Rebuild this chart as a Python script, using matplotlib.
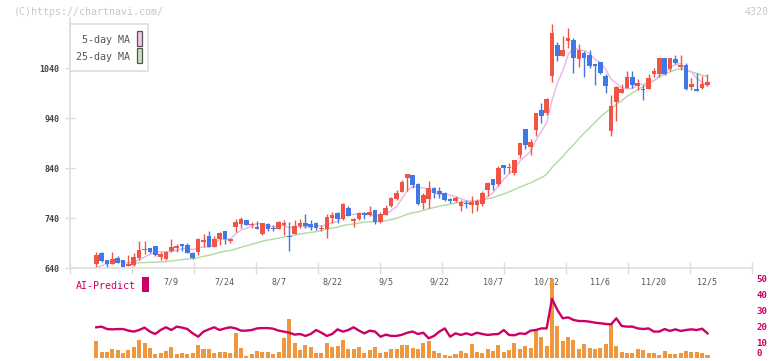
import numpy as np
import pandas as pd
import matplotlib
matplotlib.use("Agg")
import matplotlib.pyplot as plt
from matplotlib.patches import Rectangle

W, H = 772, 361

# trading days shown (TSE 2025, holidays skipped)
jp_holidays = ["2025-07-21", "2025-08-11", "2025-09-15", "2025-09-23",
               "2025-10-13", "2025-11-03", "2025-11-24"]
dates = pd.bdate_range("2025-06-18", "2025-12-05", freq="C", holidays=jp_holidays)

opens = [633, 649, 670, 656, 649, 661, 656, 645, 647, 661,
         676, 680, 684, 663, 658, 674, 681, 688, 687, 671,
         673, 693, 705, 683, 698, 714, 695, 722, 729, 736,
         726, 723, 709, 728, 721, 719, 726, 704, 709, 724,
         730, 729, 731, 719, 719, 741, 750, 739, 761, 735,
         738, 751, 747, 756, 732, 747, 764, 778, 793, 821,
         826, 808, 771, 778, 801, 794, 791, 778, 774, 765,
         771, 767, 767, 768, 796, 818, 808, 846, 841, 830,
         866, 918, 883, 917, 956, 951, 1025, 1086, 1065, 1095,
         1096, 1059, 1070, 1066, 1048, 1052, 1025, 915, 973, 991,
         1001, 1022, 1005, 999, 999, 1028, 1029, 1060, 1039, 1059,
         1043, 1046, 1003, 999, 1000, 1007]
highs = [641, 673, 673, 657, 673, 664, 657, 666, 671, 694,
         694, 681, 685, 672, 675, 698, 689, 689, 690, 672,
         700, 708, 714, 705, 712, 715, 699, 739, 742, 737,
         732, 734, 731, 730, 726, 734, 736, 733, 736, 738,
         748, 737, 733, 726, 749, 752, 752, 770, 765, 741,
         752, 753, 764, 757, 752, 766, 782, 796, 816, 828,
         827, 810, 790, 814, 803, 802, 792, 780, 784, 776,
         776, 784, 779, 794, 812, 819, 845, 847, 851, 857,
         891, 919, 898, 950, 970, 980, 1128, 1092, 1104, 1120,
         1100, 1088, 1075, 1076, 1049, 1053, 1028, 986, 1004, 1009,
         1034, 1034, 1018, 1006, 1028, 1041, 1060, 1061, 1060, 1066,
         1066, 1050, 1021, 1031, 1024, 1029]
lows = [630, 641, 653, 641, 648, 650, 641, 645, 645, 656,
        669, 671, 665, 657, 657, 673, 673, 674, 670, 659,
        666, 683, 682, 682, 686, 689, 691, 713, 720, 726,
        721, 718, 706, 715, 715, 718, 706, 675, 708, 721,
        721, 716, 716, 714, 701, 731, 730, 737, 744, 722,
        736, 739, 745, 728, 730, 746, 763, 776, 792, 794,
        800, 767, 759, 761, 780, 780, 775, 770, 772, 754,
        761, 751, 755, 765, 785, 797, 805, 828, 830, 827,
        861, 878, 866, 905, 930, 946, 1013, 1055, 1064, 1081,
        1031, 1042, 1023, 1040, 1007, 1028, 990, 905, 935, 990,
        1000, 1001, 996, 977, 998, 1022, 1023, 1027, 1034, 1048,
        1036, 996, 996, 994, 998, 1004]
closes = [641, 666, 655, 649, 658, 651, 643, 648, 662, 677,
          678, 673, 667, 669, 673, 682, 685, 685, 671, 661,
          698, 696, 683, 699, 711, 699, 698, 733, 739, 727,
          727, 719, 730, 719, 719, 732, 730, 702, 724, 730,
          725, 723, 721, 721, 742, 746, 738, 769, 745, 738,
          750, 747, 752, 732, 748, 761, 781, 791, 812, 828,
          806, 769, 786, 801, 791, 788, 776, 774, 781, 773,
          768, 773, 774, 790, 810, 807, 840, 841, 843, 856,
          890, 886, 893, 950, 945, 978, 1110, 1065, 1076, 1100,
          1061, 1076, 1061, 1045, 1045, 1031, 1005, 964, 1002, 999,
          1022, 1006, 1011, 997, 1021, 1034, 1060, 1029, 1060, 1050,
          1046, 998, 1008, 995, 1008, 1012]
# closes before the visible window (only feed the moving averages)
prev_closes = [668, 665, 662, 660, 657, 655, 652, 650,
               648, 646, 644, 640, 636, 632, 630, 631]

volume = [np.nan, 10.8, 3.9, 3.9, 5.8, 5.0, 3.3, 5.0, 6.7, 11.3,
          9.6, 6.0, 2.3, 2.9, 4.4, 7.1, 2.5, 3.3, 2.3, 3.3,
          8.1, 5.8, 5.8, 3.3, 3.9, 3.9, 3.3, 15.4, 6.5, 1.5,
          2.3, 4.6, 3.9, 3.9, 2.3, 3.9, 12.5, 24.4, 9.6, 5.0,
          8.1, 6.7, 3.3, 3.3, 9.2, 6.7, 7.7, 11.3, 5.8, 5.8,
          7.1, 3.3, 5.0, 7.1, 3.3, 3.9, 5.8, 5.8, 8.1, 8.1,
          6.5, 5.6, 9.2, 10.6, 4.4, 2.9, 1.9, 1.3, 2.5, 4.4,
          3.1, 8.8, 3.8, 3.1, 5.6, 4.4, 8.1, 3.8, 5.0, 9.4,
          5.6, 7.5, 6.3, 17.7, 13.1, 7.5, 49.4, 20.2, 10.8, 13.1,
          11.3, 5.6, 8.8, 6.3, 5.6, 6.3, 8.8, 21.5, 7.5, 3.8,
          3.1, 3.1, 5.6, 5.0, 3.1, 3.1, 1.9, 4.4, 2.5, 2.5,
          3.1, 4.4, 3.8, 3.8, 3.1, 1.9]
ai_predict = [np.nan, 19.2, 19.6, 18.1, 17.9, 18.1, 18.1, 17.1, 16.5, 17.5,
              19.0, 16.5, 15.0, 17.5, 19.2, 17.5, 19.6, 19.0, 18.1, 15.4,
              13.3, 16.5, 17.9, 19.2, 17.5, 18.5, 19.2, 18.5, 17.1, 17.1,
              17.5, 18.5, 18.7, 18.7, 18.3, 17.1, 16.5, 15.8, 14.6, 15.0,
              13.8, 15.0, 17.5, 15.8, 13.8, 15.0, 17.9, 16.5, 17.5, 19.2,
              17.1, 15.4, 17.1, 16.5, 13.3, 14.6, 13.8, 13.8, 14.5, 15.8,
              16.5, 15.0, 15.8, 12.3, 13.8, 16.5, 18.5, 13.3, 15.4, 14.4,
              15.4, 14.4, 15.8, 15.0, 14.4, 14.8, 15.0, 17.5, 14.4, 14.2,
              15.4, 15.0, 17.1, 17.5, 18.5, 18.5, 37.0, 30.0, 24.8, 25.4,
              23.8, 23.1, 23.1, 22.7, 22.1, 21.7, 21.3, 21.0, 24.8, 20.0,
              19.6, 19.6, 18.5, 18.1, 18.5, 16.5, 16.5, 18.1, 16.9, 17.9,
              16.9, 17.5, 17.9, 17.5, 18.3, 15.4]

label_days = ["2025-07-09", "2025-07-24", "2025-08-07", "2025-08-22", "2025-09-05",
              "2025-09-22", "2025-10-07", "2025-10-22", "2025-11-06", "2025-11-20",
              "2025-12-05"]
price_ticks = [640, 740, 840, 940, 1040]
vol_ticks = [0, 10, 20, 30, 40, 50]

assert len(dates) == len(opens) == len(highs) == len(lows) == len(closes)
assert len(volume) == len(closes) == len(ai_predict)

UP, DOWN = "#f05444", "#4078e8"
PINK, GREEN = "#e9b6e9", "#b3d9a3"
ORANGE, CRIMSON = "#f0963c", "#cc0066"
GRID = "#dddddd"
MONO = "DejaVu Sans Mono"

o, h, l, c = map(np.array, (opens, highs, lows, closes))
x = np.arange(len(c))
full = pd.Series(np.concatenate([prev_closes, c]))
ma5 = full.rolling(5).mean().values[len(prev_closes):]
ma25 = full.rolling(25).mean().values[len(prev_closes):]

fig = plt.figure(figsize=(W / 100, H / 100), dpi=100)
fig.patch.set_facecolor("white")


def fx(px):
    return px / W


def fy(py):
    return 1 - py / H


xlim = (-3.9, 123.3)

# ---- price panel ----
ax = fig.add_axes([fx(70), fy(268), fx(752) - fx(70), fy(18) - fy(268)])
ax.set_xlim(*xlim)
ax.set_ylim(640, 1140)

ax.plot(x, ma25, color=GREEN, lw=1.0, zorder=1)
ax.plot(x, ma5, color=PINK, lw=1.0, zorder=1)

col = np.where(c >= o, UP, DOWN)
ax.vlines(x, l, h, colors=col, lw=1.0, zorder=2)
body_lo = np.minimum(o, c)
body_h = np.maximum(np.abs(c - o), 1.6)
ax.bar(x, body_h, bottom=body_lo, width=0.86, color=col, lw=0, zorder=3)

for s in ("top", "right"):
    ax.spines[s].set_visible(False)
for s in ("left", "bottom"):
    ax.spines[s].set_color(GRID)
    ax.spines[s].set_linewidth(1.2)

ax.set_yticks(price_ticks)
ax.set_yticklabels([str(v) for v in price_ticks], fontsize=6, family=MONO,
                   color="#444444", fontweight="bold")
ax.tick_params(axis="y", direction="inout", length=7, width=1, color=GRID, pad=4)

ax.set_xticks(np.linspace(xlim[0], xlim[1], 12))
ax.set_xticklabels([])
ax.tick_params(axis="x", which="major", direction="inout", length=9, width=1, color=GRID)
lab_pos = dates.get_indexer(pd.to_datetime(label_days))
ax.set_xticks(lab_pos, minor=True)
ax.set_xticklabels([f"{d.month}/{d.day}" for d in pd.to_datetime(label_days)],
                   minor=True, fontsize=6, family=MONO, color="#555555")
ax.tick_params(axis="x", which="minor", length=0, pad=7)

# ---- AI predict / volume panel ----
axv = fig.add_axes([fx(70), fy(358), fx(752) - fx(70), fy(278) - fy(358)])
axv.set_xlim(*xlim)
axv.set_ylim(0, 50)
axv.bar(x, volume, width=0.75, color=ORANGE, lw=0, zorder=1)
axv.plot(x, ai_predict, color=CRIMSON, lw=1.7, zorder=2)
for s in axv.spines.values():
    s.set_visible(False)
axv.set_xticks([])
axv.yaxis.tick_right()
axv.set_yticks(vol_ticks)
axv.set_yticklabels([str(v) for v in vol_ticks], fontsize=6.6, family=MONO,
                    color=CRIMSON, fontweight="bold")
axv.tick_params(axis="y", length=0, pad=3)
axv.get_yticklabels()[0].set_va("bottom")
axv.patch.set_alpha(0)

# ---- header, legend, AI-Predict tag ----
fig.text(fx(14), fy(12), "(C)https://chartnavi.com/", fontsize=7.2, family=MONO,
         color="#c8c8c8", va="center", ha="left")
fig.text(fx(769), fy(12), "4320", fontsize=7.2, family=MONO,
         color="#c8c8c8", va="center", ha="right")

fig.patches.append(Rectangle((fx(70), fy(71)), fx(148) - fx(70), fy(24) - fy(71),
                             transform=fig.transFigure, fc="white", ec=GRID, lw=1.2,
                             zorder=5))
fig.text(fx(130), fy(40), "5-day MA", fontsize=7.2, family=MONO, color="#555555",
         va="center", ha="right", zorder=6)
fig.text(fx(130), fy(57), "25-day MA", fontsize=7.2, family=MONO, color="#555555",
         va="center", ha="right", zorder=6)
for top, fc in ((31, "#f0c4f0"), (48, "#c4e2b8")):
    fig.patches.append(Rectangle((fx(137), fy(top + 15)), fx(142) - fx(137),
                                 fy(top) - fy(top + 15), transform=fig.transFigure,
                                 fc=fc, ec="#555555", lw=0.9, zorder=6))

fig.text(fx(76), fy(286), "AI-Predict", fontsize=7.2, family=MONO, color=CRIMSON,
         va="center", ha="left")
fig.patches.append(Rectangle((fx(142), fy(292)), fx(149) - fx(142), fy(277) - fy(292),
                             transform=fig.transFigure, fc=CRIMSON, ec="none"))

fig.savefig("out.png", dpi=100)
